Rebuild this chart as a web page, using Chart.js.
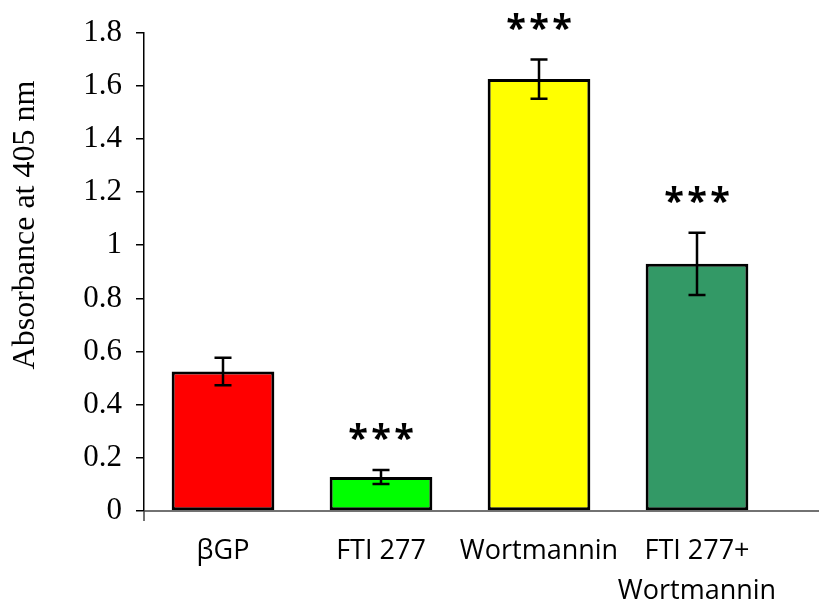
<!DOCTYPE html>
<html>
<head>
<meta charset="utf-8">
<script src="https://cdn.jsdelivr.net/npm/chart.js@4.4.1/dist/chart.umd.min.js"></script>
<style>
  body { margin: 0; background: #fff; }
  #box { width: 819px; height: 606px; }
</style>
</head>
<body>
<div id="box"><canvas id="grafico"></canvas></div>
<script>
const categorias = ['\u03B2GP', 'FTI 277', 'Wortmannin', ['FTI 277+', 'Wortmannin']];
const valores = [0.525, 0.128, 1.625, 0.93];
const erros = [0.052, 0.026, 0.074, 0.117];
const asteriscos = ['', '***', '***', '***'];
const cores = ['#ff0000', '#00ff00', '#ffff00', '#339966'];
const ticksY = [0, 0.2, 0.4, 0.6, 0.8, 1, 1.2, 1.4, 1.6, 1.8];
const tituloY = 'Absorbance at 405 nm';

// error bars, stars, axis line and y title
const extras = {
  id: 'extras',
  afterDatasetsDraw(chart) {
    const { ctx, chartArea, scales: { y } } = chart;
    const meta = chart.getDatasetMeta(0);
    ctx.save();
    ctx.strokeStyle = '#000';
    ctx.lineWidth = 2.5;
    meta.data.forEach((bar, i) => {
      const topo = y.getPixelForValue(valores[i] + erros[i]);
      const base = y.getPixelForValue(valores[i] - erros[i]);
      ctx.beginPath();
      ctx.moveTo(bar.x, topo); ctx.lineTo(bar.x, base);
      ctx.moveTo(bar.x - 8.5, topo); ctx.lineTo(bar.x + 8.5, topo);
      ctx.moveTo(bar.x - 8.5, base); ctx.lineTo(bar.x + 8.5, base);
      ctx.stroke();
      // stars spaced out one by one
      const chars = asteriscos[i].split('');
      ctx.fillStyle = '#000';
      ctx.font = 'bold 36px "Open Sans"';
      ctx.textAlign = 'center';
      ctx.textBaseline = 'middle';
      chars.forEach((c, k) => {
        ctx.fillText(c, bar.x + (k - (chars.length - 1) / 2) * 23, topo - 30);
      });
    });
    // x axis runs to the edge
    ctx.strokeStyle = '#444';
    ctx.lineWidth = 1.5;
    ctx.beginPath();
    ctx.moveTo(chartArea.left, chartArea.bottom);
    ctx.lineTo(chart.width, chartArea.bottom);
    ctx.moveTo(chartArea.left, chartArea.bottom);
    ctx.lineTo(chartArea.left, chartArea.bottom + 10);
    ctx.stroke();
    // y title
    ctx.translate(26, 225);
    ctx.rotate(-Math.PI / 2);
    ctx.fillStyle = '#000';
    ctx.font = '32px "Liberation Serif"';
    ctx.textAlign = 'center';
    ctx.textBaseline = 'middle';
    ctx.fillText(tituloY, 0, 0);
    ctx.restore();
  }
};

const ctx = document.getElementById('grafico').getContext('2d');
const grafico = new Chart(ctx, {
  type: 'bar',
  data: {
    labels: categorias,
    datasets: [{
      data: valores,
      backgroundColor: cores,
      borderColor: '#000',
      borderWidth: 3,
      borderSkipped: false,
      categoryPercentage: 1,
      barPercentage: 0.65
    }]
  },
  options: {
    responsive: true,
    maintainAspectRatio: false,
    animation: false,
    layout: { padding: { top: 31, right: 43, bottom: 0, left: 0 } },
    plugins: { legend: { display: false }, tooltip: { enabled: false } },
    scales: {
      x: {
        grid: { display: false, drawTicks: false },
        border: { display: false },
        afterFit: (s) => { s.height = 95; },
        ticks: {
          color: '#000',
          padding: 20,
          maxRotation: 0,
          autoSkip: false,
          font: { family: 'Open Sans', size: 27, lineHeight: 1.5 }
        }
      },
      y: {
        min: 0,
        max: 1.8,
        afterFit: (s) => { s.width = 144; },
        afterBuildTicks: (s) => { s.ticks = ticksY.map(v => ({ value: v })); },
        grid: { drawOnChartArea: false, tickLength: 8, color: '#000', lineWidth: 1.5 },
        border: { display: true, color: '#000', width: 1.5 },
        ticks: {
          color: '#000',
          padding: 14,
          font: { family: 'Liberation Serif', size: 31 },
          callback: (v) => String(+v.toFixed(1))
        }
      }
    }
  },
  plugins: [extras]
});
</script>
</body>
</html>
